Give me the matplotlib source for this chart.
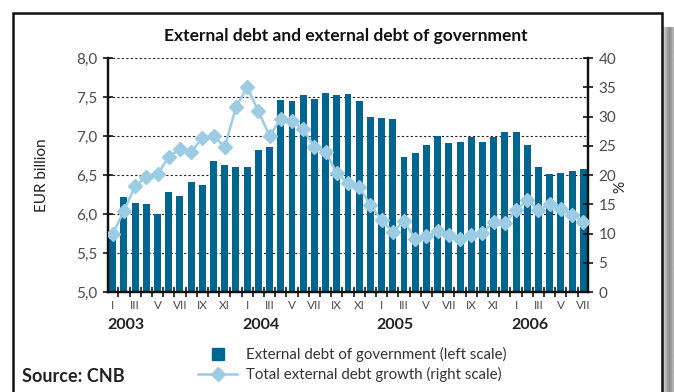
import matplotlib.pyplot as plt
import numpy as np
from matplotlib.lines import Line2D
from matplotlib.patches import Rectangle

plt.rcParams['font.family'] = ['Lato', 'DejaVu Sans']

# monthly data, Jan 2003 - Jul 2006
years = ['2003', '2004', '2005', '2006']
months_roman = ['I', 'III', 'V', 'VII', 'IX', 'XI']
gov_debt = [5.68, 6.22, 6.14, 6.13, 6.00, 6.28, 6.23, 6.41, 6.37, 6.68, 6.63, 6.60,
            6.60, 6.82, 6.86, 7.46, 7.45, 7.53, 7.47, 7.55, 7.53, 7.54, 7.45, 7.24,
            7.23, 7.22, 6.73, 6.78, 6.88, 7.00, 6.91, 6.92, 6.99, 6.92, 6.99, 7.05,
            7.05, 6.88, 6.60, 6.51, 6.53, 6.55, 6.58]
debt_growth = [9.9, 13.9, 18.1, 19.7, 20.1, 23.1, 24.4, 24.0, 26.3, 26.7, 24.8, 31.6,
               35.0, 30.9, 26.7, 29.6, 29.3, 27.8, 24.8, 24.0, 20.3, 18.6, 18.0, 14.8,
               12.3, 10.3, 12.1, 9.1, 9.5, 10.4, 9.7, 9.1, 9.7, 10.1, 12.0, 11.8,
               14.0, 15.7, 14.1, 15.0, 14.2, 13.2, 12.0]

bar_color = '#00668f'
line_color = '#9ccbe4'
text_gray = '#4a4a4a'

W, H = 674, 392
fig = plt.figure(figsize=(W / 100, H / 100), dpi=100)

def fx(px):
    return px / W

def fy(py):
    return 1 - py / H

# page frame and shadow strip
fig.patches.append(Rectangle((fx(13), fy(400)), fx(662) - fx(13), fy(13) - fy(400),
                             transform=fig.transFigure, fill=False, ec='#111111', lw=1.8))
shadow = fig.add_axes([fx(663), 0, fx(674) - fx(663), fy(27)])
grad = np.array([[0.80, 0.72, 0.62, 0.56, 0.60, 0.70]])
shadow.imshow(grad, cmap='gray', vmin=0, vmax=1, aspect='auto')
shadow.axis('off')

ax = fig.add_axes([fx(108), fy(292), fx(588) - fx(108), fy(58) - fy(292)])
ax2 = ax.twinx()

x = np.arange(len(gov_debt))
bars = ax.bar(x, np.array(gov_debt) - 5.0, bottom=5.0, width=0.62, color=bar_color, zorder=2)
ax.set_ylim(5.0, 8.0)
ax.set_xlim(-0.42, len(x) - 1 + 0.42)
ax.set_yticks(np.arange(5.0, 8.01, 0.5))
ax.set_yticklabels([f'{v:.1f}'.replace('.', ',') for v in np.arange(5.0, 8.01, 0.5)])
ax.yaxis.grid(True, color='#222222', linestyle=(0, (2, 2)), linewidth=0.8)
ax.set_axisbelow(True)

# roman month labels under every other bar
label_pos = list(range(0, len(x), 2))
ax.set_xticks(label_pos)
ax.set_xticklabels([months_roman[(p % 12) // 2] for p in label_pos])
ax.set_xticks(np.arange(0.5, len(x) - 1, 1.0), minor=True)
ax.tick_params(axis='x', which='major', length=0, pad=6, labelsize=8.5, labelcolor=text_gray)
ax.tick_params(axis='x', which='minor', direction='inout', length=7, width=1.1)
ax.tick_params(axis='y', direction='inout', length=7, width=1.1, labelsize=11,
               labelcolor=text_gray, pad=4)
ax.set_ylabel('EUR billion', fontsize=11, color='#222222', labelpad=20)

line, = ax2.plot(x, debt_growth, color=line_color, lw=1.8, marker='D', ms=7,
                 mec=line_color, mfc=line_color, zorder=3)
ax2.set_ylim(0, 40)
ax2.set_yticks(range(0, 41, 5))
ax2.tick_params(axis='y', direction='inout', length=7, width=1.1, labelsize=11,
                labelcolor=text_gray, pad=4)
ax2.set_ylabel('%', fontsize=11, color='#222222', rotation=90, va='center', ha='center')
ax2.yaxis.set_label_coords(1.068, 0.45)

for a in (ax, ax2):
    a.spines['top'].set_visible(False)
    for s in ('left', 'right', 'bottom'):
        a.spines[s].set_linewidth(1.6)
        a.spines[s].set_color('#111111')

# year labels
for i, yr in enumerate(years):
    ax.text(i * 12 - 0.45, -0.14, yr, transform=ax.get_xaxis_transform(),
            ha='left', va='center', fontsize=11.5, fontweight='bold', color='#222222')

fig.text(fx(346), fy(36), 'External debt and external debt of government', ha='center',
         va='center', fontsize=12.5, fontweight='bold', color='#111111')
fig.text(fx(22), fy(377), 'Source: CNB', ha='left', va='center', fontsize=13,
         fontweight='bold', color='#222222')

handles = [Line2D([], [], marker='s', ls='none', color=bar_color, ms=8.5),
           Line2D([], [], marker='D', color=line_color, lw=1.8, ms=7)]
fig.legend(handles, ['External debt of government (left scale)',
                     'Total external debt growth (right scale)'],
           loc='upper left', bbox_to_anchor=(fx(192), fy(341)), frameon=False,
           fontsize=10.8, handlelength=2.6, handletextpad=0.6, labelspacing=0.35,
           borderaxespad=0, labelcolor='#333333')

fig.savefig('out.png', dpi=100)
